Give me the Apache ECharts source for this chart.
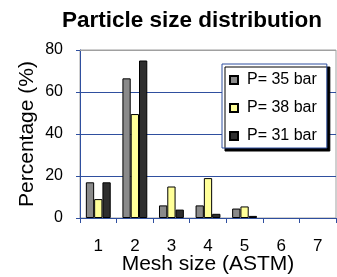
<!DOCTYPE html>
<html>
<head>
<meta charset="utf-8">
<script src="https://cdn.jsdelivr.net/npm/echarts@6/dist/echarts.min.js"></script>
<style>html,body{margin:0;padding:0;background:#fff}#c{width:337px;height:277px}</style>
</head>
<body>
<div id="c"></div>
<script>
var categories = ['1', '2', '3', '4', '5', '6', '7'];
var seriesNames = ['P= 35 bar', 'P= 38 bar', 'P= 31 bar'];
var p35 = [17, 66.5, 6, 6, 4.5, 0, 0];
var p38 = [9, 49.5, 15, 19, 5.5, 0, 0];
var p31 = [17, 75, 4, 2, 1, 0, 0];
var yTicks = [0, 20, 40, 60, 80];

var FONT = '"Liberation Sans", Arial, sans-serif';
var BLUE = '#2f4f9f';
var GRAY = '#a0a0a0';
var colors = ['#8a8a8a', '#ffff99', '#2e2e2e'];
var data = [p35, p38, p31];
var yMax = yTicks[yTicks.length - 1];

var chart = echarts.init(document.getElementById('c'));
chart.setOption({
  animation: false,
  backgroundColor: '#fff',
  textStyle: { fontFamily: FONT, color: '#000' },
  title: {
    text: 'Particle size distribution',
    left: 62, top: 9,
    padding: 0,
    textStyle: { fontFamily: FONT, fontSize: 22.5, fontWeight: 'bold', color: '#000' }
  },
  legend: {
    orient: 'vertical',
    left: 222, top: 64,
    width: 105,
    padding: [8, 10, 4, 7],
    itemWidth: 8, itemHeight: 8,
    itemGap: 12,
    backgroundColor: '#fff',
    borderColor: BLUE, borderWidth: 1,
    shadowColor: '#000', shadowOffsetX: 3, shadowOffsetY: 3, shadowBlur: 0,
    textStyle: { fontFamily: FONT, fontSize: 16, color: '#000', lineHeight: 16, padding: [0, 0, 0, 4] },
    data: seriesNames.map(function (n) { return { name: n, icon: 'rect' }; })
  },
  grid: {
    left: 80, top: 50, width: 256, height: 168,
    containLabel: false,
    outerBoundsMode: 'none',
    show: true, borderColor: GRAY, borderWidth: 1, backgroundColor: '#fff'
  },
  xAxis: {
    type: 'category',
    data: categories,
    name: 'Mesh size (ASTM)',
    nameLocation: 'middle',
    nameGap: 36,
    nameMoveOverlap: false,
    nameTextStyle: { fontFamily: FONT, fontSize: 21, color: '#000', lineHeight: 21 },
    axisLine: { lineStyle: { color: BLUE, width: 1 } },
    axisTick: { show: true, length: 5, alignWithLabel: false, lineStyle: { color: BLUE } },
    axisLabel: { fontFamily: FONT, fontSize: 17, color: '#000', margin: 20 },
    splitLine: { show: false }
  },
  yAxis: {
    type: 'value',
    min: yTicks[0], max: yMax, interval: 20,
    name: 'Percentage (%)',
    nameLocation: 'middle',
    nameGap: 42,
    nameRotate: 90,
    nameMoveOverlap: false,
    nameTextStyle: { fontFamily: FONT, fontSize: 21, color: '#000' },
    axisLine: { show: true, lineStyle: { color: BLUE, width: 1 } },
    axisTick: { show: true, length: 4, lineStyle: { color: BLUE } },
    axisLabel: { fontFamily: FONT, fontSize: 16, color: '#000', margin: 17 },
    splitLine: { show: true, lineStyle: { color: BLUE, width: 1 } }
  },
  series: seriesNames.map(function (n, i) {
    var s = {
      name: n,
      type: 'bar',
      data: data[i].map(function (v) {
        return v === 0 ? { value: v, itemStyle: { borderWidth: 0 } } : v;
      }),
      barGap: '0%',
      barCategoryGap: '32%',
      itemStyle: { color: colors[i], borderColor: '#000', borderWidth: 1 }
    };
    if (i === 0) {
      s.markLine = {
        silent: true, symbol: 'none', label: { show: false },
        lineStyle: { color: GRAY, type: 'solid', width: 1 },
        data: [{ yAxis: yMax }]
      };
    }
    return s;
  })
});
</script>
</body>
</html>
